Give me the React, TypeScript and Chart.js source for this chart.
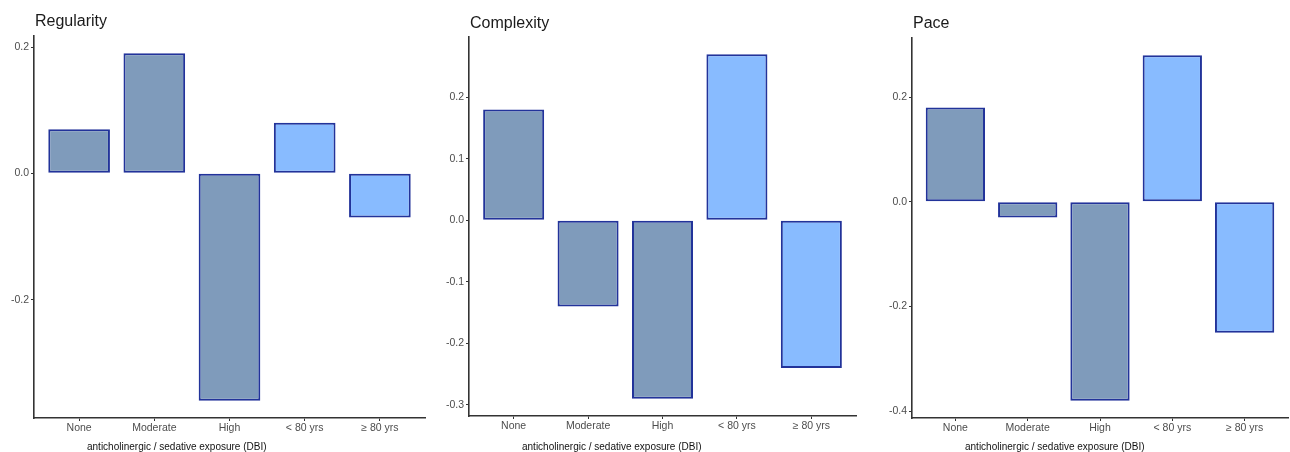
import React, { useEffect, useRef } from "react";
import { Chart, registerables } from "chart.js";

Chart.register(...registerables);

const categories = ["None", "Moderate", "High", "< 80 yrs", "≥ 80 yrs"];
const regularity = [0.07, 0.19, -0.36, 0.08, -0.07];
const complexity = [0.18, -0.14, -0.29, 0.27, -0.24];
const pace = [0.18, -0.03, -0.38, 0.28, -0.25];
const panelTitles = ["Regularity", "Complexity", "Pace"];
const xAxisTitle = "anticholinergic / sedative exposure (DBI)";
const regularityTicks = [-0.2, 0.0, 0.2];
const complexityTicks = [-0.3, -0.2, -0.1, 0.0, 0.1, 0.2];
const paceTicks = [-0.4, -0.2, 0.0, 0.2];

const DARK = "#7f9bbb";
const LIGHT = "#88bbff";
const BORDER = "#22339a";
const FONT = "'Liberation Sans', Arial, sans-serif";

type PanelCfg = {
  title: string;
  values: number[];
  ticks: number[];
  left: number;
  yAxisWidth: number;
  padTop: number;
  padRight: number;
  xAxisHeight: number;
  titleBaseline: number;
};

const panels: PanelCfg[] = [
  { title: panelTitles[0], values: regularity, ticks: regularityTicks, left: 0, yAxisWidth: 34, padTop: 36, padRight: 5, xAxisHeight: 34, titleBaseline: 26 },
  { title: panelTitles[1], values: complexity, ticks: complexityTicks, left: 430, yAxisWidth: 39, padTop: 37, padRight: 4, xAxisHeight: 36, titleBaseline: 28 },
  { title: panelTitles[2], values: pace, ticks: paceTicks, left: 860, yAxisWidth: 52, padTop: 38, padRight: 2, xAxisHeight: 34, titleBaseline: 28 },
];

function Panel({ cfg }: { cfg: PanelCfg }) {
  const ref = useRef<HTMLCanvasElement | null>(null);
  useEffect(() => {
    if (!ref.current) return;
    const vals = cfg.values;
    const lo = Math.min(0, ...vals);
    const hi = Math.max(0, ...vals);
    const pad = (hi - lo) * 0.05;
    const textPlugin = {
      id: "panelText",
      afterDraw(chart: any) {
        const ctx = chart.ctx;
        const ca = chart.chartArea;
        ctx.save();
        ctx.fillStyle = "#1a1a1a";
        ctx.font = `16px ${FONT}`;
        ctx.textAlign = "left";
        ctx.textBaseline = "alphabetic";
        ctx.fillText(cfg.title, ca.left + 1, cfg.titleBaseline);
        ctx.font = `10px ${FONT}`;
        ctx.fillStyle = "#111";
        ctx.fillText(xAxisTitle, ca.left + 53, 450);
        ctx.restore();
      },
    };
    const chart = new Chart(ref.current, {
      type: "bar",
      data: {
        datasets: [
          {
            data: vals.map((v, i) => ({ x: i, y: v })),
            backgroundColor: [DARK, DARK, DARK, LIGHT, LIGHT],
            borderColor: BORDER,
            borderWidth: 2,
            borderSkipped: false,
            categoryPercentage: 0.82,
            barPercentage: 1.0,
          },
        ],
      },
      options: {
        animation: false,
        responsive: false,
        maintainAspectRatio: false,
        layout: { padding: { top: cfg.padTop, right: cfg.padRight, left: 0, bottom: 0 } },
        plugins: {
          legend: { display: false },
          tooltip: { enabled: false },
          title: { display: false },
        },
        scales: {
          x: {
            type: "linear",
            min: -0.6,
            max: categories.length - 1 + 0.6,
            offset: false,
            grid: { display: true, offset: false, drawOnChartArea: false, drawTicks: true, tickLength: 3, color: "#333" },
            border: { display: true, color: "#333", width: 1.6 },
            ticks: {
              color: "#4d4d4d",
              font: { size: 10.5, family: FONT },
              padding: 1,
              maxRotation: 0,
              autoSkip: false,
              includeBounds: false,
              callback: (v: any) => categories[Math.round(Number(v))] ?? "",
            },
            afterBuildTicks(scale: any) {
              scale.ticks = categories.map((_, i) => ({ value: i }));
            },
            afterFit(scale: any) {
              scale.height = cfg.xAxisHeight;
            },
          },
          y: {
            min: lo - pad,
            max: hi + pad,
            grid: { display: true, offset: false, drawOnChartArea: false, drawTicks: true, tickLength: 3, color: "#333" },
            border: { display: true, color: "#333", width: 1.6 },
            ticks: {
              color: "#4d4d4d",
              font: { size: 10.5, family: FONT },
              padding: 2,
              includeBounds: false,
              callback: (v: any) => {
                const n = Number(v);
                return Math.abs(n) < 1e-9 ? "0.0" : n.toFixed(1);
              },
            },
            afterBuildTicks(scale: any) {
              scale.ticks = cfg.ticks.map((t) => ({ value: t }));
            },
            afterFit(scale: any) {
              scale.width = cfg.yAxisWidth;
            },
          },
        },
      },
      plugins: [textPlugin],
    } as any);
    return () => chart.destroy();
  }, [cfg]);
  return (
    <canvas
      ref={ref}
      width={430}
      height={452}
      style={{ position: "absolute", left: cfg.left, top: 0, width: 430, height: 452 }}
    />
  );
}

export default function App() {
  return (
    <div style={{ position: "fixed", left: 0, top: 0, width: 1290, height: 452, background: "#fff" }}>
      {panels.map((p) => (
        <Panel key={p.title} cfg={p} />
      ))}
    </div>
  );
}
